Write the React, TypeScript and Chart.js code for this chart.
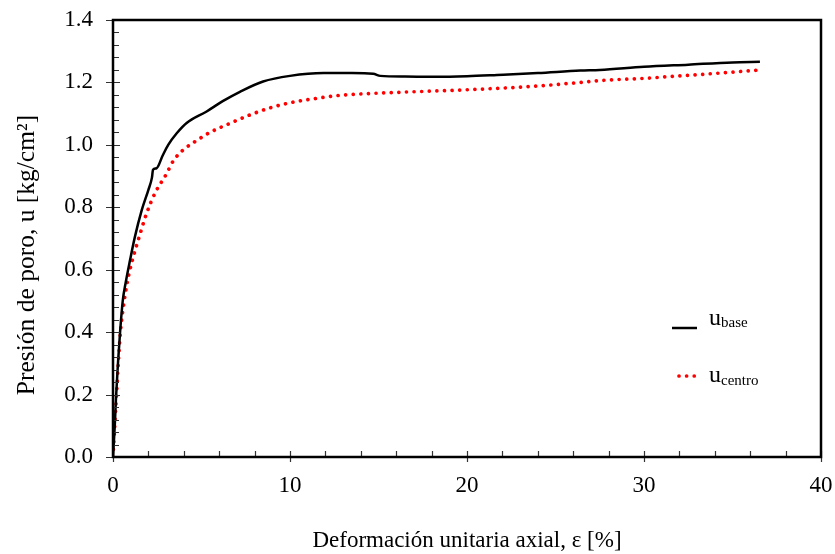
import React, { useEffect, useRef } from "react";
import { Chart, registerables } from "chart.js";

Chart.register(...registerables);

const baseX = [0, 0.05, 0.1, 0.17, 0.28, 0.4, 0.55, 0.72, 0.96, 1.24, 1.62, 2.0, 2.2, 2.26, 2.46, 2.8, 3.12, 3.6, 4.16, 5.29, 6.2, 7.17, 8.48, 10.0, 11.9, 13.5, 14.7, 15.1, 16.5, 18.3, 20.0, 21.7, 24.0, 26.4, 27.5, 30.0, 32.5, 35.0, 36.55];
const baseY = [0, 0.05, 0.1, 0.19, 0.3, 0.4, 0.5, 0.56, 0.63, 0.706, 0.79, 0.856, 0.895, 0.92, 0.925, 0.965, 1.0, 1.037, 1.07, 1.107, 1.14, 1.17, 1.203, 1.221, 1.23, 1.23, 1.228, 1.221, 1.219, 1.218, 1.22, 1.224, 1.23, 1.238, 1.24, 1.25, 1.257, 1.264, 1.266];

const centroX = [0, 0.05, 0.12, 0.2, 0.3, 0.42, 0.64, 0.87, 1.15, 1.43, 1.9, 2.37, 3.0, 3.41, 3.97, 4.73, 5.48, 6.61, 7.74, 8.96, 10.19, 11.5, 12.7, 14.0, 16.0, 19.8, 23.6, 26.4, 27.5, 30.0, 32.0, 34.3, 36.55];
const centroY = [0, 0.05, 0.12, 0.2, 0.3, 0.4, 0.503, 0.578, 0.642, 0.696, 0.781, 0.845, 0.905, 0.949, 0.984, 1.014, 1.04, 1.069, 1.096, 1.12, 1.137, 1.149, 1.158, 1.163, 1.168, 1.176, 1.187, 1.2, 1.206, 1.213, 1.221, 1.23, 1.24];

const xTitle = "Deformación unitaria axial, ε [%]";
const yTitle = "Presión de poro, u [kg/cm²]";
const legendBase = ["u", "base"];
const legendCentro = ["u", "centro"];

const SERIF = '"Liberation Serif", "Times New Roman", serif';

const decorPlugin = {
  id: "decor",
  afterDraw(chart: any) {
    const ctx = chart.ctx;
    const { left, right, top, bottom } = chart.chartArea;
    const xs = chart.scales.x;
    const ys = chart.scales.y;
    ctx.save();
    // ticks
    ctx.strokeStyle = "#333";
    ctx.lineWidth = 1.2;
    ctx.beginPath();
    for (let i = 0; i <= 35; i++) {
      const v = i * 0.04;
      const py = Math.round(ys.getPixelForValue(v)) + 0.5;
      if (i % 5 === 0) {
        ctx.moveTo(left - 7, py);
        ctx.lineTo(left + 7, py);
      } else {
        ctx.moveTo(left, py);
        ctx.lineTo(left + 6, py);
      }
    }
    for (let i = 0; i <= 20; i++) {
      const v = i * 2;
      const px = Math.round(xs.getPixelForValue(v)) + 0.5;
      if (i % 5 === 0) {
        ctx.moveTo(px, bottom + 5);
        ctx.lineTo(px, bottom - 6);
      } else {
        ctx.moveTo(px, bottom);
        ctx.lineTo(px, bottom - 6);
      }
    }
    ctx.stroke();
    // frame
    ctx.strokeStyle = "#000";
    ctx.lineWidth = 2.5;
    ctx.strokeRect(left, top, right - left, bottom - top);

    // legend
    ctx.lineWidth = 2.5;
    ctx.strokeStyle = "#000";
    ctx.beginPath();
    ctx.moveTo(672, 328);
    ctx.lineTo(697, 328);
    ctx.stroke();
    ctx.strokeStyle = "#ff0000";
    ctx.lineWidth = 3.7;
    ctx.lineCap = "round";
    ctx.setLineDash([0.01, 7.6]);
    ctx.beginPath();
    ctx.moveTo(679, 376);
    ctx.lineTo(700, 376);
    ctx.stroke();
    ctx.setLineDash([]);
    ctx.fillStyle = "#000";
    ctx.textAlign = "left";
    ctx.textBaseline = "alphabetic";
    ctx.font = `24px ${SERIF}`;
    ctx.fillText(legendBase[0], 709, 325);
    let w = ctx.measureText(legendBase[0]).width;
    ctx.font = `15px ${SERIF}`;
    ctx.fillText(legendBase[1], 709 + w, 327);
    ctx.font = `24px ${SERIF}`;
    ctx.fillText(legendCentro[0], 709, 382);
    w = ctx.measureText(legendCentro[0]).width;
    ctx.font = `15px ${SERIF}`;
    ctx.fillText(legendCentro[1], 709 + w, 385);

    // titles
    ctx.font = `23px ${SERIF}`;
    ctx.textAlign = "center";
    ctx.fillText(xTitle, (left + right) / 2, 547);
    ctx.font = `25.5px ${SERIF}`;
    ctx.translate(34, 255);
    ctx.rotate(-Math.PI / 2);
    ctx.fillText(yTitle, 0, 0);
    ctx.restore();
  },
};

export default function App() {
  const ref = useRef<HTMLCanvasElement | null>(null);
  useEffect(() => {
    document.body.style.margin = "0";
    const canvas = ref.current;
    if (!canvas) return;
    const chart = new Chart(canvas, {
      type: "line",
      data: {
        datasets: [
          {
            label: "ubase",
            data: baseX.map((x, i) => ({ x, y: baseY[i] })),
            borderColor: "#000",
            borderWidth: 2.5,
            pointRadius: 0,
            cubicInterpolationMode: "monotone",
            fill: false,
          },
          {
            label: "ucentro",
            data: centroX.map((x, i) => ({ x, y: centroY[i] })),
            borderColor: "#ff0000",
            borderWidth: 3.7,
            borderCapStyle: "round",
            borderDash: [0.01, 7.6],
            pointRadius: 0,
            cubicInterpolationMode: "monotone",
            fill: false,
          },
        ],
      },
      options: {
        responsive: false,
        animation: false,
        devicePixelRatio: 1,
        layout: { padding: { left: 0, top: 20, right: 14, bottom: 0 } },
        plugins: { legend: { display: false }, tooltip: { enabled: false } },
        scales: {
          x: {
            type: "linear",
            min: 0,
            max: 40,
            grid: { display: false, drawTicks: false },
            border: { display: false },
            ticks: {
              stepSize: 10,
              padding: 15,
              color: "#000",
              font: { family: SERIF, size: 23 },
              maxRotation: 0,
            },
            afterFit(s: any) {
              s.height = 97;
              s.paddingLeft = 0;
              s.paddingRight = 0;
            },
          },
          y: {
            type: "linear",
            min: 0,
            max: 1.4,
            grid: { display: false, drawTicks: false },
            border: { display: false },
            ticks: {
              stepSize: 0.2,
              padding: 20,
              color: "#000",
              font: { family: SERIF, size: 23 },
              callback: (v: any) => Number(v).toFixed(1),
            },
            afterFit(s: any) {
              s.width = 113;
              s.paddingTop = 0;
              s.paddingBottom = 0;
            },
          },
        },
      },
      plugins: [decorPlugin],
    } as any);
    return () => chart.destroy();
  }, []);
  return (
    <div style={{ width: 835, height: 554 }}>
      <canvas ref={ref} width={835} height={554} style={{ display: "block" }} />
    </div>
  );
}
